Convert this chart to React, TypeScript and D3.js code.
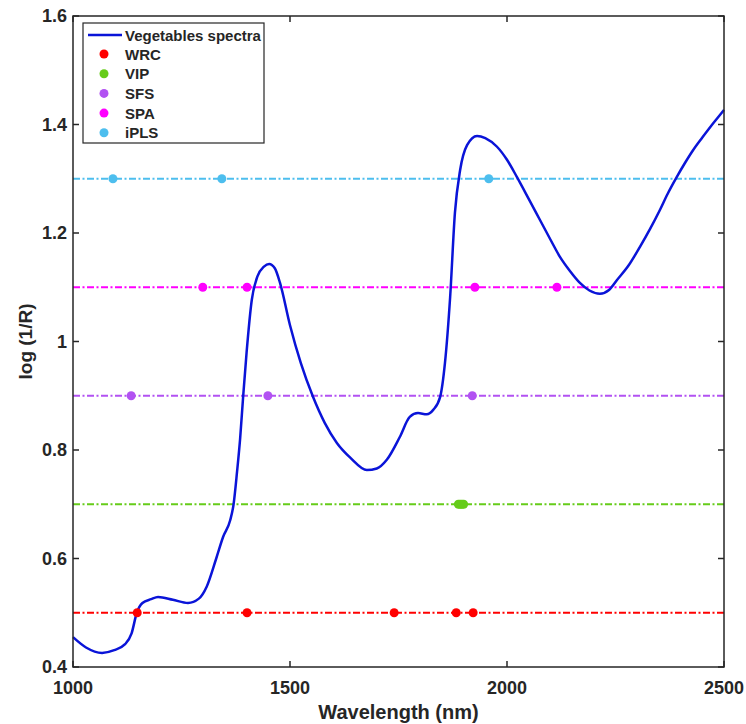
import React from "react"
import * as d3 from "d3"

// spectrum
const wavelength = [1000, 1030, 1067, 1095, 1120, 1135, 1147, 1160, 1180, 1196, 1230, 1265, 1290, 1308, 1330, 1346, 1362, 1370, 1378, 1385, 1392, 1400, 1412, 1425, 1440, 1452, 1465, 1477, 1500, 1525, 1553, 1580, 1608, 1640, 1677, 1700, 1723, 1753, 1776, 1795, 1815, 1830, 1846, 1857, 1869, 1880, 1892, 1908, 1931, 1950, 1977, 2000, 2023, 2050, 2076, 2100, 2122, 2145, 2168, 2190, 2214, 2235, 2253, 2280, 2306, 2330, 2352, 2370, 2391, 2410, 2429, 2450, 2468, 2485, 2500]
const absorbance = [0.455, 0.436, 0.426, 0.431, 0.442, 0.462, 0.5, 0.518, 0.525, 0.529, 0.524, 0.518, 0.526, 0.548, 0.6, 0.64, 0.67, 0.7, 0.76, 0.82, 0.898, 0.98, 1.077, 1.12, 1.138, 1.143, 1.135, 1.108, 1.03, 0.96, 0.898, 0.85, 0.813, 0.785, 0.763, 0.766, 0.782, 0.824, 0.861, 0.868, 0.866, 0.874, 0.898, 0.96, 1.082, 1.237, 1.316, 1.362, 1.379, 1.375, 1.359, 1.335, 1.303, 1.263, 1.224, 1.188, 1.156, 1.13, 1.108, 1.094, 1.088, 1.095, 1.113, 1.14, 1.174, 1.208, 1.242, 1.272, 1.303, 1.329, 1.353, 1.376, 1.395, 1.412, 1.427]

const methods = ["WRC", "VIP", "SFS", "SPA", "iPLS"]
const levels = [0.5, 0.7, 0.9, 1.1, 1.3]
const colors = ["#ff0000", "#66cc1a", "#b252f2", "#ff00ff", "#4dbeee"]
const selected = [
  [1148, 1401, 1740, 1883, 1922],
  [1888, 1892, 1896, 1900],
  [1134, 1449, 1920],
  [1299, 1401, 1926, 2115],
  [1092, 1343, 1958],
]

const xTicks = [1000, 1500, 2000, 2500]
const yTicks = [0.4, 0.6, 0.8, 1, 1.2, 1.4, 1.6]

const W = 746, H = 724
const m = { left: 73, right: 22, top: 16, bottom: 57 }
const font = "Arial, 'Liberation Sans', Helvetica, sans-serif"

export default function App() {
  const x = d3.scaleLinear().domain([1000, 2500]).range([m.left, W - m.right])
  const y = d3.scaleLinear().domain([0.4, 1.6]).range([H - m.bottom, m.top])
  const line = d3.line<number>()
    .x((d, i) => x(wavelength[i]))
    .y(d => y(d))
    .curve(d3.curveMonotoneX)

  const x0 = m.left, x1 = W - m.right, y0 = H - m.bottom, y1 = m.top
  const tick = 6

  return (
    <svg width={W} height={H} style={{ position: "absolute", left: 0, top: 0, background: "#fff" }} fontFamily={font}>
      {levels.map((lv, i) => (
        <line key={"l" + i} x1={x0} x2={x1} y1={y(lv)} y2={y(lv)}
          stroke={colors[i]} strokeWidth={1.8} strokeDasharray="7,2.5,2,2.5" />
      ))}
      <path d={line(absorbance) || ""} fill="none" stroke="#0a14d8" strokeWidth={2.5} />
      {selected.map((pts, i) => pts.map((w, j) => (
        <circle key={i + "-" + j} cx={x(w)} cy={y(levels[i])} r={4.5} fill={colors[i]} />
      )))}

      {/* frame */}
      <rect x={x0} y={y1} width={x1 - x0} height={y0 - y1} fill="none" stroke="#262626" strokeWidth={1.5} />
      {xTicks.map(t => (
        <g key={"x" + t}>
          <line x1={x(t)} x2={x(t)} y1={y0} y2={y0 - tick} stroke="#262626" strokeWidth={1.5} />
          <line x1={x(t)} x2={x(t)} y1={y1} y2={y1 + tick} stroke="#262626" strokeWidth={1.5} />
          <text x={x(t)} y={y0 + 27} textAnchor="middle" fontSize={18} fontWeight="bold" fill="#262626">{t}</text>
        </g>
      ))}
      {yTicks.map(t => (
        <g key={"y" + t}>
          <line x1={x0} x2={x0 + tick} y1={y(t)} y2={y(t)} stroke="#262626" strokeWidth={1.5} />
          <line x1={x1} x2={x1 - tick} y1={y(t)} y2={y(t)} stroke="#262626" strokeWidth={1.5} />
          <text x={x0 - 6} y={y(t) + 6} textAnchor="end" fontSize={18} fontWeight="bold" fill="#262626">{d3.format("~g")(t)}</text>
        </g>
      ))}
      <text x={(x0 + x1) / 2} y={719} textAnchor="middle" fontSize={20} fontWeight="bold" fill="#262626">Wavelength (nm)</text>
      <text transform={`translate(32,${(y0 + y1) / 2}) rotate(-90)`} textAnchor="middle" fontSize={19} fontWeight="bold" fill="#262626">log (1/R)</text>

      {/* legend */}
      <g>
        <rect x={83} y={23} width={181} height={120} fill="#fff" stroke="#262626" strokeWidth={1.2} />
        <line x1={88} x2={122} y1={35} y2={35} stroke="#0a14d8" strokeWidth={2.5} />
        <text x={125} y={40.5} fontSize={15} fontWeight="bold" fill="#262626">Vegetables spectra</text>
        {methods.map((name, i) => (
          <g key={name}>
            <circle cx={104} cy={54 + i * 19.7} r={4.5} fill={colors[i]} />
            <text x={125} y={59.5 + i * 19.7} fontSize={15} fontWeight="bold" fill="#262626">{name}</text>
          </g>
        ))}
      </g>
    </svg>
  )
}
